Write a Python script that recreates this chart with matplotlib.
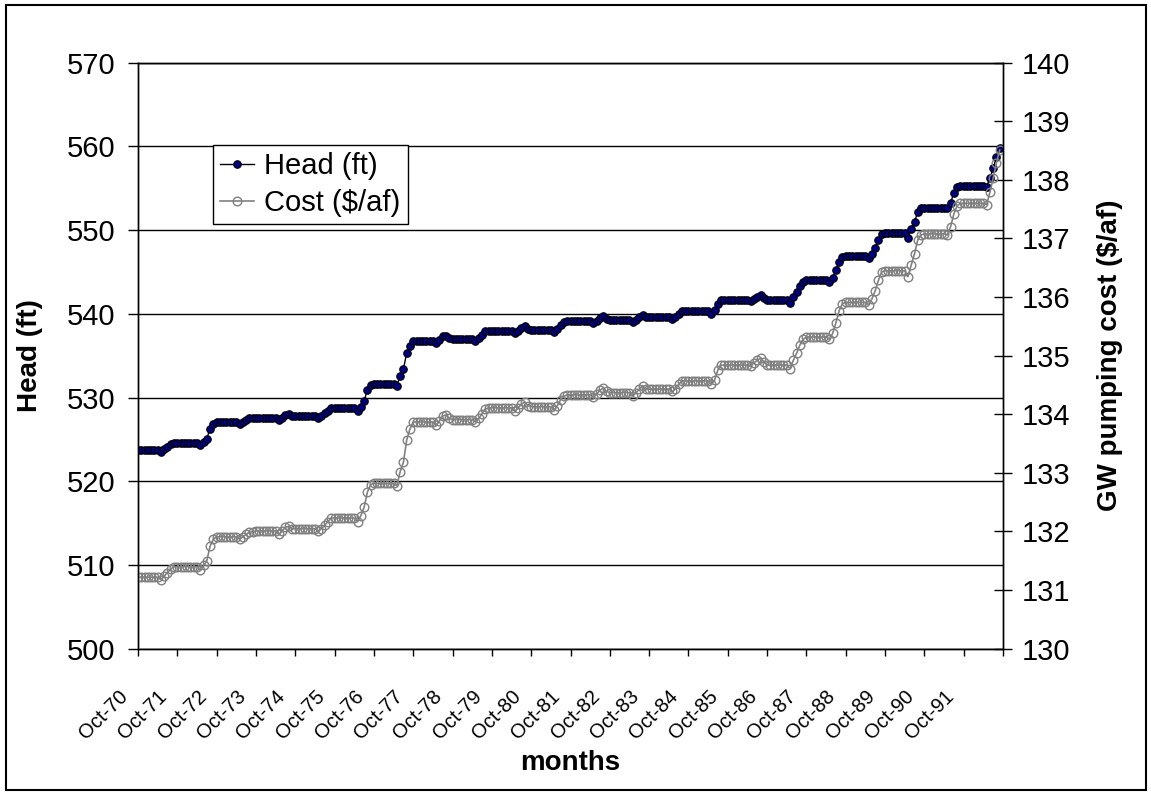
import numpy as np
import matplotlib.pyplot as plt
from matplotlib.patches import Rectangle
from matplotlib.transforms import ScaledTranslation

plt.rcParams['font.family'] = ['Liberation Sans', 'DejaVu Sans']

# water years Oct-70 .. Oct-91, one row of 12 monthly values (Oct..Sep) per year
year_labels = ['Oct-70', 'Oct-71', 'Oct-72', 'Oct-73', 'Oct-74', 'Oct-75', 'Oct-76',
               'Oct-77', 'Oct-78', 'Oct-79', 'Oct-80', 'Oct-81', 'Oct-82', 'Oct-83',
               'Oct-84', 'Oct-85', 'Oct-86', 'Oct-87', 'Oct-88', 'Oct-89', 'Oct-90', 'Oct-91']

head_rows = [
    [523.7, 523.7, 523.7, 523.7, 523.7, 523.7, 523.7, 523.5, 523.8, 524.1, 524.4, 524.6],
    [524.6, 524.6, 524.6, 524.6, 524.6, 524.6, 524.6, 524.3, 524.7, 525.1, 526.3, 526.9],
    [527.1, 527.1, 527.1, 527.1, 527.1, 527.1, 527.1, 526.9, 527.1, 527.3, 527.5, 527.5],
    [527.6, 527.6, 527.6, 527.6, 527.6, 527.6, 527.6, 527.3, 527.6, 527.9, 528.0, 527.8],
    [527.8, 527.8, 527.8, 527.8, 527.8, 527.8, 527.8, 527.6, 527.8, 528.1, 528.4, 528.7],
    [528.7, 528.7, 528.7, 528.7, 528.7, 528.7, 528.7, 528.4, 528.9, 529.6, 530.9, 531.5],
    [531.6, 531.6, 531.6, 531.6, 531.6, 531.6, 531.6, 531.4, 532.6, 533.4, 535.3, 536.2],
    [536.8, 536.8, 536.8, 536.8, 536.8, 536.8, 536.8, 536.5, 536.9, 537.3, 537.4, 537.1],
    [537.0, 537.0, 537.0, 537.0, 537.0, 537.0, 537.0, 536.8, 537.1, 537.5, 537.9, 538.0],
    [538.0, 538.0, 538.0, 538.0, 538.0, 538.0, 538.0, 537.7, 538.0, 538.3, 538.5, 538.2],
    [538.1, 538.1, 538.1, 538.1, 538.1, 538.1, 538.1, 537.8, 538.2, 538.7, 539.0, 539.1],
    [539.1, 539.1, 539.1, 539.1, 539.1, 539.1, 539.1, 538.9, 539.2, 539.5, 539.7, 539.4],
    [539.3, 539.3, 539.3, 539.3, 539.3, 539.3, 539.3, 539.0, 539.3, 539.6, 539.9, 539.6],
    [539.6, 539.6, 539.6, 539.6, 539.6, 539.6, 539.6, 539.4, 539.6, 540.0, 540.3, 540.3],
    [540.3, 540.3, 540.3, 540.3, 540.3, 540.3, 540.3, 540.0, 540.4, 541.2, 541.6, 541.6],
    [541.6, 541.6, 541.6, 541.6, 541.6, 541.6, 541.6, 541.5, 541.8, 542.0, 542.2, 541.9],
    [541.6, 541.6, 541.6, 541.6, 541.6, 541.6, 541.6, 541.3, 542.0, 542.6, 543.3, 543.8],
    [544.0, 544.0, 544.0, 544.0, 544.0, 544.0, 544.0, 543.8, 544.3, 545.2, 546.2, 546.8],
    [546.9, 546.9, 546.9, 546.9, 546.9, 546.9, 546.9, 546.7, 547.2, 547.9, 548.8, 549.5],
    [549.6, 549.6, 549.6, 549.6, 549.6, 549.6, 549.6, 549.1, 550.1, 551.0, 552.2, 552.6],
    [552.7, 552.7, 552.7, 552.7, 552.7, 552.7, 552.7, 552.6, 553.3, 554.4, 555.1, 555.3],
    [555.3, 555.3, 555.3, 555.3, 555.3, 555.3, 555.3, 555.2, 556.2, 557.4, 558.7, 559.8],
]

cost_rows = [
    [131.22, 131.22, 131.22, 131.22, 131.22, 131.22, 131.22, 131.18, 131.24, 131.30, 131.36, 131.40],
    [131.40, 131.40, 131.40, 131.40, 131.40, 131.40, 131.40, 131.34, 131.42, 131.50, 131.75, 131.87],
    [131.91, 131.91, 131.91, 131.91, 131.91, 131.91, 131.91, 131.87, 131.91, 131.95, 131.99, 131.99],
    [132.01, 132.01, 132.01, 132.01, 132.01, 132.01, 132.01, 131.95, 132.01, 132.07, 132.09, 132.05],
    [132.05, 132.05, 132.05, 132.05, 132.05, 132.05, 132.05, 132.01, 132.05, 132.11, 132.17, 132.23],
    [132.23, 132.23, 132.23, 132.23, 132.23, 132.23, 132.23, 132.17, 132.27, 132.41, 132.67, 132.80],
    [132.82, 132.82, 132.82, 132.82, 132.82, 132.82, 132.82, 132.78, 133.02, 133.18, 133.56, 133.75],
    [133.87, 133.87, 133.87, 133.87, 133.87, 133.87, 133.87, 133.81, 133.89, 133.97, 133.99, 133.93],
    [133.91, 133.91, 133.91, 133.91, 133.91, 133.91, 133.91, 133.87, 133.93, 134.01, 134.09, 134.11],
    [134.11, 134.11, 134.11, 134.11, 134.11, 134.11, 134.11, 134.05, 134.11, 134.17, 134.21, 134.15],
    [134.13, 134.13, 134.13, 134.13, 134.13, 134.13, 134.13, 134.07, 134.15, 134.25, 134.31, 134.33],
    [134.33, 134.33, 134.33, 134.33, 134.33, 134.33, 134.33, 134.29, 134.35, 134.41, 134.45, 134.39],
    [134.37, 134.37, 134.37, 134.37, 134.37, 134.37, 134.37, 134.31, 134.37, 134.43, 134.49, 134.43],
    [134.43, 134.43, 134.43, 134.43, 134.43, 134.43, 134.43, 134.39, 134.43, 134.51, 134.57, 134.57],
    [134.57, 134.57, 134.57, 134.57, 134.57, 134.57, 134.57, 134.51, 134.59, 134.76, 134.84, 134.84],
    [134.84, 134.84, 134.84, 134.84, 134.84, 134.84, 134.84, 134.82, 134.88, 134.92, 134.96, 134.90],
    [134.84, 134.84, 134.84, 134.84, 134.84, 134.84, 134.84, 134.78, 134.92, 135.04, 135.18, 135.28],
    [135.32, 135.32, 135.32, 135.32, 135.32, 135.32, 135.32, 135.28, 135.38, 135.56, 135.77, 135.89],
    [135.91, 135.91, 135.91, 135.91, 135.91, 135.91, 135.91, 135.87, 135.97, 136.11, 136.29, 136.43],
    [136.45, 136.45, 136.45, 136.45, 136.45, 136.45, 136.45, 136.35, 136.55, 136.74, 136.98, 137.06],
    [137.08, 137.08, 137.08, 137.08, 137.08, 137.08, 137.08, 137.06, 137.20, 137.42, 137.56, 137.60],
    [137.60, 137.60, 137.60, 137.60, 137.60, 137.60, 137.60, 137.58, 137.79, 138.03, 138.29, 138.51],
]

head = [v for row in head_rows for v in row]
cost = [v for row in cost_rows for v in row]
months = np.arange(len(head))

W, H = 1151, 795
fig = plt.figure(figsize=(W / 100, H / 100), dpi=100)
ax = fig.add_axes([138 / W, 1 - 648.7 / H, 865 / W, 586 / H])
ax2 = ax.twinx()

h1, = ax.plot(months, head, color='black', lw=1, marker='o', ms=5.4,
              mfc='#000080', mec='black', mew=0.8, label='Head (ft)')
h2, = ax2.plot(months, cost, color='#808080', lw=1.2, marker='o', ms=6.2,
               mfc='none', mec='#808080', mew=1, label='Cost ($/af)')

ax.set_xlim(0, 264)
ax.set_ylim(500, 570)
ax2.set_ylim(130, 140)
ax.set_yticks(range(500, 571, 10))
ax2.set_yticks(range(130, 141))
ax.set_xticks(range(0, 265, 12))
ax.set_xticklabels([])

# rotated year labels, ending just left of each tick
lab_tr = ax.get_xaxis_transform() + ScaledTranslation(-20 / 100, -38 / 100, fig.dpi_scale_trans)
for i, lab in enumerate(year_labels):
    ax.text(i * 12, 0, lab, transform=lab_tr, rotation=45, ha='right', va='top',
            rotation_mode='anchor', fontsize=14.5)

ax.grid(axis='y', color='black', lw=1)
ax.set_axisbelow(True)
for a in (ax, ax2):
    for s in a.spines.values():
        s.set_linewidth(1)
ax.tick_params(axis='y', direction='out', length=7, width=1, labelsize=21, pad=9)
ax.tick_params(axis='x', direction='out', length=5, width=1)
ax2.tick_params(axis='y', direction='inout', length=13, width=1, labelsize=21, pad=7)

fig.text(30 / W, 1 - 355.7 / H, 'Head (ft)', rotation=90, ha='center', va='center',
         fontsize=20, fontweight='bold')
fig.text(1110 / W, 1 - 355.7 / H, 'GW pumping cost ($/af)', rotation=90, ha='center',
         va='center', fontsize=20, fontweight='bold')
fig.text(570.5 / W, 1 - 763 / H, 'months', ha='center', va='center',
         fontsize=20, fontweight='bold')

leg = ax2.legend([h1, h2], ['Head (ft)', 'Cost ($/af)'], loc='upper left',
                 bbox_to_anchor=(213 / W, 1 - 145 / H), bbox_transform=fig.transFigure,
                 fancybox=False, framealpha=1, edgecolor='black', fontsize=21,
                 borderpad=0.25, borderaxespad=0, handlelength=1.15, handletextpad=0.35,
                 labelspacing=0.3, markerscale=1.0)
leg.get_frame().set_linewidth(1)

fig.patches.append(Rectangle((6 / W, 5 / H), 1140 / W, 785 / H, transform=fig.transFigure,
                             fill=False, ec='black', lw=1.5))

fig.savefig('out.png', dpi=100)
